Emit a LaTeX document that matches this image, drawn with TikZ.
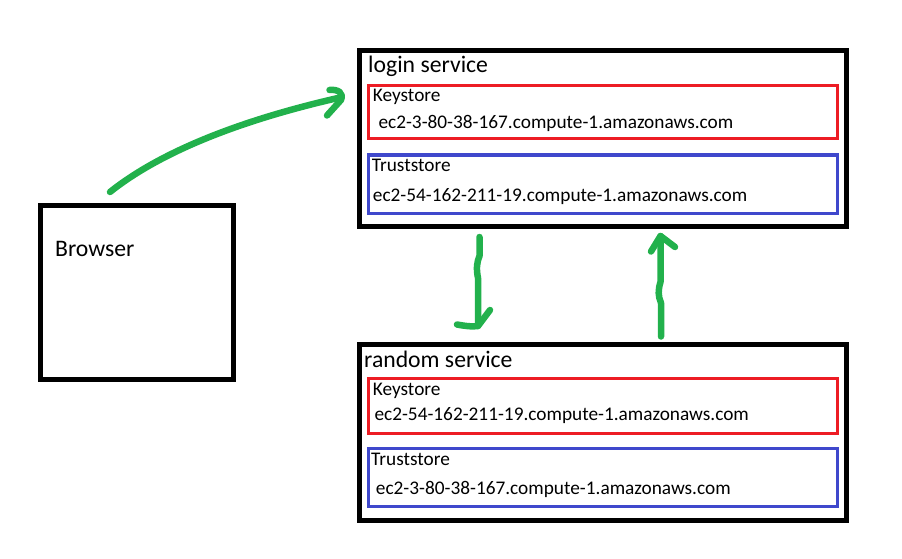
\documentclass[tikz,border=0pt]{standalone}
\usepackage{fontspec}
\setmainfont{Carlito}
\definecolor{pgreen}{HTML}{22B14C}
\definecolor{pred}{HTML}{ED1C24}
\definecolor{pblue}{HTML}{3F48CC}
\begin{document}
\begin{tikzpicture}[x=1pt,y=-1pt,
  outerbox/.style={draw=black,line width=5pt,minimum width=#1,inner sep=0pt},
  keybox/.style={draw=pred,line width=3pt,inner sep=0pt,minimum width=468.5pt},
  trustbox/.style={draw=pblue,line width=3pt,inner sep=0pt,minimum width=468.5pt},
  bigtxt/.style={anchor=base west,inner sep=0pt,font=\fontsize{23.7}{28}\selectfont},
  smalltxt/.style={anchor=base west,inner sep=0pt,font=\fontsize{19.3}{23}\selectfont},
  garrow/.style={draw=pgreen,line width=6.5pt,line cap=round,line join=round}]
\useasboundingbox (0,0) rectangle (902,559);
% Browser
\node[outerbox=193pt,minimum height=174pt] (browser) at (136.5,292) {};
\node[bigtxt] (browsertxt) at (55,256) {Browser};
% login service
\node[outerbox=487pt,minimum height=175pt] (login) at (602.5,138.5) {};
\node[keybox,minimum height=53.5pt] (lkey) at (602.75,112.25) {};
\node[trustbox,minimum height=58pt] (ltrust) at (602.75,184) {};
\node[bigtxt] (logintxt) at (368,72.3) {login service};
\node[smalltxt] (lkeytxt) at (372.7,102) {Keystore};
\node[smalltxt] (lkeyval) at (378.3,128.3) {ec2-3-80-38-167.compute-1.amazonaws.com};
\node[smalltxt] (ltrusttxt) at (371.7,171.7) {Truststore};
\node[smalltxt] (ltrustval) at (372.7,201) {ec2-54-162-211-19.compute-1.amazonaws.com};
% random service
\node[outerbox=487pt,minimum height=176pt] (random) at (602.5,432) {};
\node[keybox,minimum height=54.5pt] (rkey) at (602.75,405.75) {};
\node[trustbox,minimum height=58.5pt] (rtrust) at (602.75,477.25) {};
\node[bigtxt] (randomtxt) at (364,367.7) {random service};
\node[smalltxt] (rkeytxt) at (372.7,395) {Keystore};
\node[smalltxt] (rkeyval) at (374.3,420) {ec2-54-162-211-19.compute-1.amazonaws.com};
\node[smalltxt] (rtrusttxt) at (371,465) {Truststore};
\node[smalltxt] (rtrustval) at (375.7,494) {ec2-3-80-38-167.compute-1.amazonaws.com};
% arrow browser -> login
\coordinate (a1s) at (110,192);
\coordinate (a1e) at (338,98);
\draw[garrow] (a1s) .. controls (150,160) and (220,125) .. (a1e);
\draw[garrow] (329.5,90) .. controls (338,89) and (344,93) .. (341,100) -- (327,115.5);
% arrow login -> random
\coordinate (a2s) at (479.5,237);
\coordinate (a2e) at (478,326);
\draw[garrow] (a2s) -- (479.5,256) .. controls (477,262) and (476,268) .. (478,278) -- (a2e);
\draw[garrow] (457,324.5) .. controls (465,326) and (472,327) .. (a2e) -- (490,310);
% arrow random -> login
\coordinate (a3s) at (661,336.5);
\coordinate (a3e) at (660.5,236);
\draw[garrow] (a3s) -- (661,303) .. controls (658,296) and (658,290) .. (660.5,282) -- (a3e);
\draw[garrow] (651,251.5) -- (a3e) -- (675,247);
\end{tikzpicture}
\end{document}
